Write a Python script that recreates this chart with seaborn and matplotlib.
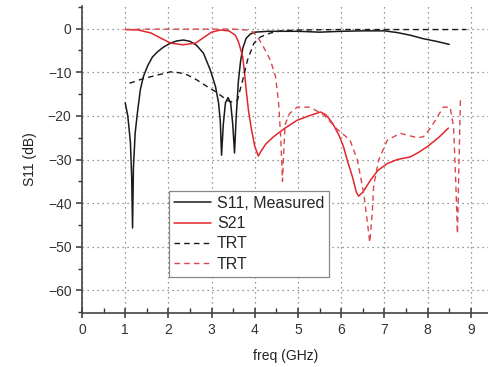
import matplotlib
matplotlib.use("Agg")
import matplotlib.pyplot as plt
import seaborn as sns
import numpy as np
from matplotlib.ticker import MultipleLocator

# ---- data ----
s11_f = [1.0, 1.06, 1.12, 1.15, 1.17, 1.19, 1.23, 1.28, 1.35, 1.42, 1.52, 1.63, 1.76, 1.89,
         2.05, 2.2, 2.35, 2.5, 2.65, 2.81, 2.97, 3.09, 3.16, 3.2, 3.23, 3.27, 3.32, 3.38,
         3.44, 3.49, 3.53, 3.57, 3.62, 3.67, 3.72, 3.8, 3.9, 4.0, 4.3, 5.0, 5.5, 6.0, 6.5,
         7.0, 7.3, 7.6, 7.9, 8.2, 8.5]
s11_db = [-17, -20, -26, -34, -45.7, -32, -24, -19.5, -14, -11, -8.5, -6.5, -5.2, -4.2,
          -3.3, -2.8, -2.6, -2.9, -3.8, -5.6, -9.5, -13.3, -17, -21, -29, -22, -17, -15.8,
          -17, -22, -28.5, -20, -12, -7.5, -4.5, -2.2, -1.2, -0.8, -0.6, -0.6, -0.8, -0.6, -0.5,
          -0.5, -0.9, -1.5, -2.3, -2.9, -3.6]

s21_f = [1.0, 1.3, 1.6, 1.85, 2.05, 2.33, 2.63, 2.85, 3.0, 3.2, 3.4, 3.55, 3.62, 3.68,
         3.72, 3.76, 3.8, 3.85, 3.92, 4.0, 4.08, 4.15, 4.25, 4.43, 4.7, 4.98, 5.25, 5.52,
         5.65, 5.8, 5.95, 6.05, 6.15, 6.26, 6.35, 6.4, 6.5, 6.68, 6.85, 7.07, 7.3, 7.6,
         7.8, 8.0, 8.25, 8.48]
s21_db = [-0.2, -0.3, -1.0, -2.3, -3.3, -3.7, -3.3, -1.8, -0.8, -0.3, -0.5, -1.5, -3, -5,
          -6.5, -10, -14, -18.5, -23, -27, -29.2, -28, -26.5, -24.8, -22.8, -21, -20, -19.1,
          -19.8, -21.7, -24.5, -27, -30.5, -34, -37.5, -38.4, -37.5, -34.7, -32.5, -30.9, -30, -29.4,
          -28.3, -27, -25, -22.8]

trt11_f = [1.1, 1.2, 1.4, 1.6, 1.8, 2.05, 2.25, 2.44, 2.65, 2.9, 3.1, 3.25, 3.35, 3.45,
           3.6, 3.66, 3.72, 3.83, 3.98, 4.13, 4.36, 4.6, 5.0, 6.0, 7.0, 8.0, 8.9]
trt11_db = [-12.5, -12.2, -11.5, -11, -10.5, -9.9, -10.1, -10.6, -11.7, -13.3, -14.5, -15.6, -16.4, -16.8,
            -16.4, -14, -11.8, -7.2, -3.3, -1.9, -1.0, -0.5, -0.3, -0.2, -0.2, -0.2, -0.2]

trt21_f = [1.0, 1.5, 2.0, 2.5, 3.0, 3.5, 3.8, 3.97, 4.1, 4.2, 4.36, 4.48, 4.55, 4.6, 4.64,
           4.67, 4.7, 4.8, 4.98, 5.28, 5.6, 5.9, 6.2, 6.37, 6.52, 6.6, 6.66, 6.72, 6.75,
           6.87, 7.07, 7.37, 7.6, 7.76, 7.9, 8.05, 8.18, 8.36, 8.52, 8.6, 8.65, 8.69, 8.72, 8.76]
trt21_db = [-0.2, -0.1, -0.1, -0.1, -0.1, -0.1, -0.3, -0.8, -2.5, -4.2, -7.2, -11, -17, -25, -35,
            -28, -22, -19.5, -18, -18, -19.8, -23, -25.5, -30, -37.7, -44, -49, -42, -36,
            -30, -25.5, -24, -24.6, -25, -24.8, -23, -21, -18, -18, -22.5, -35, -47, -33, -15.7]

labels = ["S11, Measured", "S21", "TRT", "TRT"]
x_ticks = list(range(0, 10))
y_ticks = [0, -10, -20, -30, -40, -50, -60]

# ---- plot ----
sns.set_style("ticks")
plt.rcParams["font.family"] = ["Liberation Sans", "DejaVu Sans"]

fig = plt.figure(figsize=(4.89, 3.67), dpi=100)
ax = fig.add_axes([82 / 489, 1 - 313 / 367, 1 - 82 / 489, (313 - 6) / 367])

sns.lineplot(x=s11_f, y=s11_db, ax=ax, color="#1a1a1a", lw=1.1, sort=False,
             estimator=None, label=labels[0])
sns.lineplot(x=s21_f, y=s21_db, ax=ax, color="#e3262c", lw=1.1, sort=False,
             estimator=None, label=labels[1])
sns.lineplot(x=trt11_f, y=trt11_db, ax=ax, color="#1a1a1a", lw=1.0, sort=False,
             estimator=None, label=labels[2], linestyle=(0, (4, 3)))
sns.lineplot(x=trt21_f, y=trt21_db, ax=ax, color="#d9464c", lw=1.0, sort=False,
             estimator=None, label=labels[3], linestyle=(0, (4, 3)))

ax.set_xlim(0, 9.42)
ax.set_ylim(-65.2, 5.2)
ax.set_xticks(x_ticks)
ax.set_yticks(y_ticks)
ax.xaxis.set_minor_locator(MultipleLocator(0.5))
ax.yaxis.set_minor_locator(MultipleLocator(5))
ax.tick_params(axis="x", which="major", direction="inout", length=7, width=1.1,
               labelsize=10, colors="#333333", labelcolor="#333333")
ax.tick_params(axis="x", which="minor", direction="in", length=3.5, width=1.0, colors="#333333")
ax.tick_params(axis="y", which="major", direction="out", length=4, width=1.1,
               labelsize=10, colors="#333333", labelcolor="#333333")
ax.tick_params(axis="y", which="minor", direction="out", length=3, width=1.0, colors="#333333")

ax.grid(True, which="major", linestyle=(0, (1, 3)), color="#777777", linewidth=0.9)
for s in ["top", "right"]:
    ax.spines[s].set_visible(False)
for s in ["left", "bottom"]:
    ax.spines[s].set_color("#444444")
    ax.spines[s].set_linewidth(1.2)

ax.set_xlabel("freq (GHz)", fontsize=10, color="#222222", labelpad=9)
ax.set_ylabel("S11 (dB)", fontsize=10, color="#222222", labelpad=8)

leg = ax.legend(loc="upper left", bbox_to_anchor=(0.214, 0.397), borderaxespad=0,
                fontsize=11.5, frameon=True, fancybox=False, framealpha=1,
                edgecolor="#888888", handlelength=2.3, handletextpad=0.4,
                labelspacing=0.33, borderpad=0.3)
leg.get_frame().set_linewidth(0.9)

fig.savefig("out.png", dpi=100)
